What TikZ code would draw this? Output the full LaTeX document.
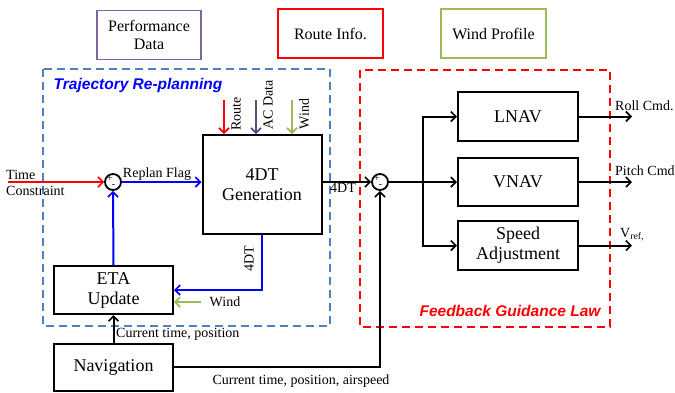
\documentclass[tikz,border=0pt]{standalone}
\usepackage{fontspec}
\setmainfont{Liberation Serif}
\newfontfamily\titlefont{Liberation Sans}
\usetikzlibrary{arrows.meta}
\definecolor{dashblue}{RGB}{79,129,189}
\definecolor{perfpurple}{RGB}{128,100,162}
\definecolor{acpurple}{RGB}{96,74,123}
\definecolor{windgreen}{RGB}{155,187,89}
\definecolor{pureblue}{RGB}{0,0,255}
\definecolor{purered}{RGB}{255,0,0}
\tikzset{
  blk/.style={draw=black, line width=2pt, rectangle, align=center, font=\fontsize{18}{20}\selectfont, inner sep=0pt},
  topbox/.style={rectangle, line width=1.8pt, align=center, font=\fontsize{16}{18}\selectfont, inner sep=0pt},
  sumj/.style={circle, draw=black, line width=1.8pt, minimum size=16pt, inner sep=0pt},
  sgn/.style={font=\fontsize{10}{10}\selectfont, inner sep=0pt},
  conn/.style={line width=2pt, -{Straight Barb[length=5pt,width=10pt,line width=1.6pt]}},
  plain/.style={line width=2pt},
  lbl/.style={font=\fontsize{14}{16}\selectfont, inner sep=0pt},
  grouptitle/.style={font=\titlefont\bfseries\itshape\fontsize{15.5}{17}\selectfont, inner sep=0pt},
  groupbox/.style={line width=2pt, dash pattern=on 8pt off 5pt}
}
\begin{document}
\begin{tikzpicture}[x=1pt,y=-1pt]
\useasboundingbox (0,0) rectangle (675,392);
% top source boxes
\node[topbox, draw=perfpurple, minimum width=104pt, minimum height=49pt] (perf) at (149,35) {Performance\\Data};
\node[topbox, draw=purered, minimum width=105pt, minimum height=49pt] (route) at (330.5,33.5) {Route Info.};
\node[topbox, draw=windgreen, minimum width=105pt, minimum height=49pt] (windp) at (493.5,33.5) {Wind Profile};
% group boxes
\draw[groupbox, draw=dashblue] (43,69) rectangle (330,326);
\draw[groupbox, draw=purered] (360,70) rectangle (610,327);
\node[grouptitle, text=pureblue] (ttitle) at (138,85) {Trajectory Re-planning};
\node[grouptitle, text=purered] (ftitle) at (510,311) {Feedback Guidance Law};
% blocks
\node[blk, minimum width=119pt, minimum height=99pt] (gen) at (262,184.5) {4DT\\Generation};
\node[blk, minimum width=119pt, minimum height=48pt] (eta) at (113.5,290) {ETA\\Update};
\node[blk, minimum width=119pt, minimum height=47pt] (nav) at (113.5,367) {Navigation};
\node[blk, minimum width=120pt, minimum height=49pt] (lnav) at (518,116.5) {LNAV};
\node[blk, minimum width=120pt, minimum height=48pt] (vnav) at (518,182) {VNAV};
\node[blk, minimum width=120pt, minimum height=49pt] (spd) at (518,245.5) {Speed\\Adjustment};
% summing junctions
\node[sumj] (s1) at (113,182) {};
\node[sgn] (s1p) at (110,179) {+};
\node[sgn] (s1m) at (113.5,186.5) {-};
\node[sumj] (s2) at (380,182) {};
\node[sgn] (s2p) at (377,179) {+};
\node[sgn] (s2m) at (380.5,186.5) {-};
% time constraint
\coordinate (tc) at (8,182);
\draw[conn, draw=purered] (tc) -- (s1.west);
\node[lbl, anchor=west] (tlabel) at (6,175) {Time};
\node[lbl, anchor=west] (clabel) at (6,191) {Constraint};
% replan flag
\draw[conn, draw=pureblue] (s1.east) -- (gen.west |- s1);
\node[lbl] (rflag) at (157,174) {Replan Flag};
% eta -> s1
\draw[conn, draw=pureblue] (eta.north) -- (s1.south);
% gen -> eta
\draw[conn, draw=pureblue] (gen.south) |- (eta.east);
\node[lbl, rotate=90] (l4dt) at (249,259) {4DT};
% wind -> eta
\coordinate (wstart) at (201,302);
\draw[conn, draw=windgreen] (wstart) -- (eta.east |- wstart);
\node[lbl] (wlabel) at (225,302) {Wind};
% nav -> eta
\draw[conn] (nav.north) -- (eta.south);
\node[lbl, anchor=west] (ctp) at (116,334) {Current time, position};
% nav -> s2
\draw[conn] (nav.east) -| (s2.south);
\node[lbl] (ctpa) at (301,381) {Current time, position, airspeed};
% gen -> s2
\draw[conn] (gen.east |- s2) -- (s2.west);
\node[lbl] (l4dt2) at (343,188) {4DT};
% top input arrows
\coordinate (rin) at (224,100);
\coordinate (ain) at (256,100);
\coordinate (win) at (292,100);
\draw[conn, draw=purered] (rin) -- (gen.north -| rin);
\draw[conn, draw=acpurple] (ain) -- (gen.north -| ain);
\draw[conn, draw=windgreen] (win) -- (gen.north -| win);
\node[lbl, rotate=90] (lroute) at (236,114) {Route};
\node[lbl, rotate=90] (lac) at (268,105) {AC Data};
\node[lbl, rotate=90] (lwind) at (304,114) {Wind};
% branch to nav blocks
\coordinate (br) at (423,182);
\draw[plain] (s2.east) -- (br);
\draw[conn] (br) |- (lnav.west);
\draw[conn] (br) -- (vnav.west);
\draw[conn] (br) |- (spd.west);
% outputs
\coordinate (o1) at (632,116.5);
\coordinate (o2) at (632,182);
\coordinate (o3) at (632,245.5);
\draw[conn] (lnav.east) -- (o1);
\draw[conn] (vnav.east) -- (o2);
\draw[conn] (spd.east) -- (o3);
\node[lbl, anchor=west] (lroll) at (615,106) {Roll Cmd.};
\node[lbl, anchor=west] (lpitch) at (615,171) {Pitch Cmd};
\node[lbl, anchor=west] (lvref) at (620,235) {V\textsubscript{ref,}};
\end{tikzpicture}
\end{document}
